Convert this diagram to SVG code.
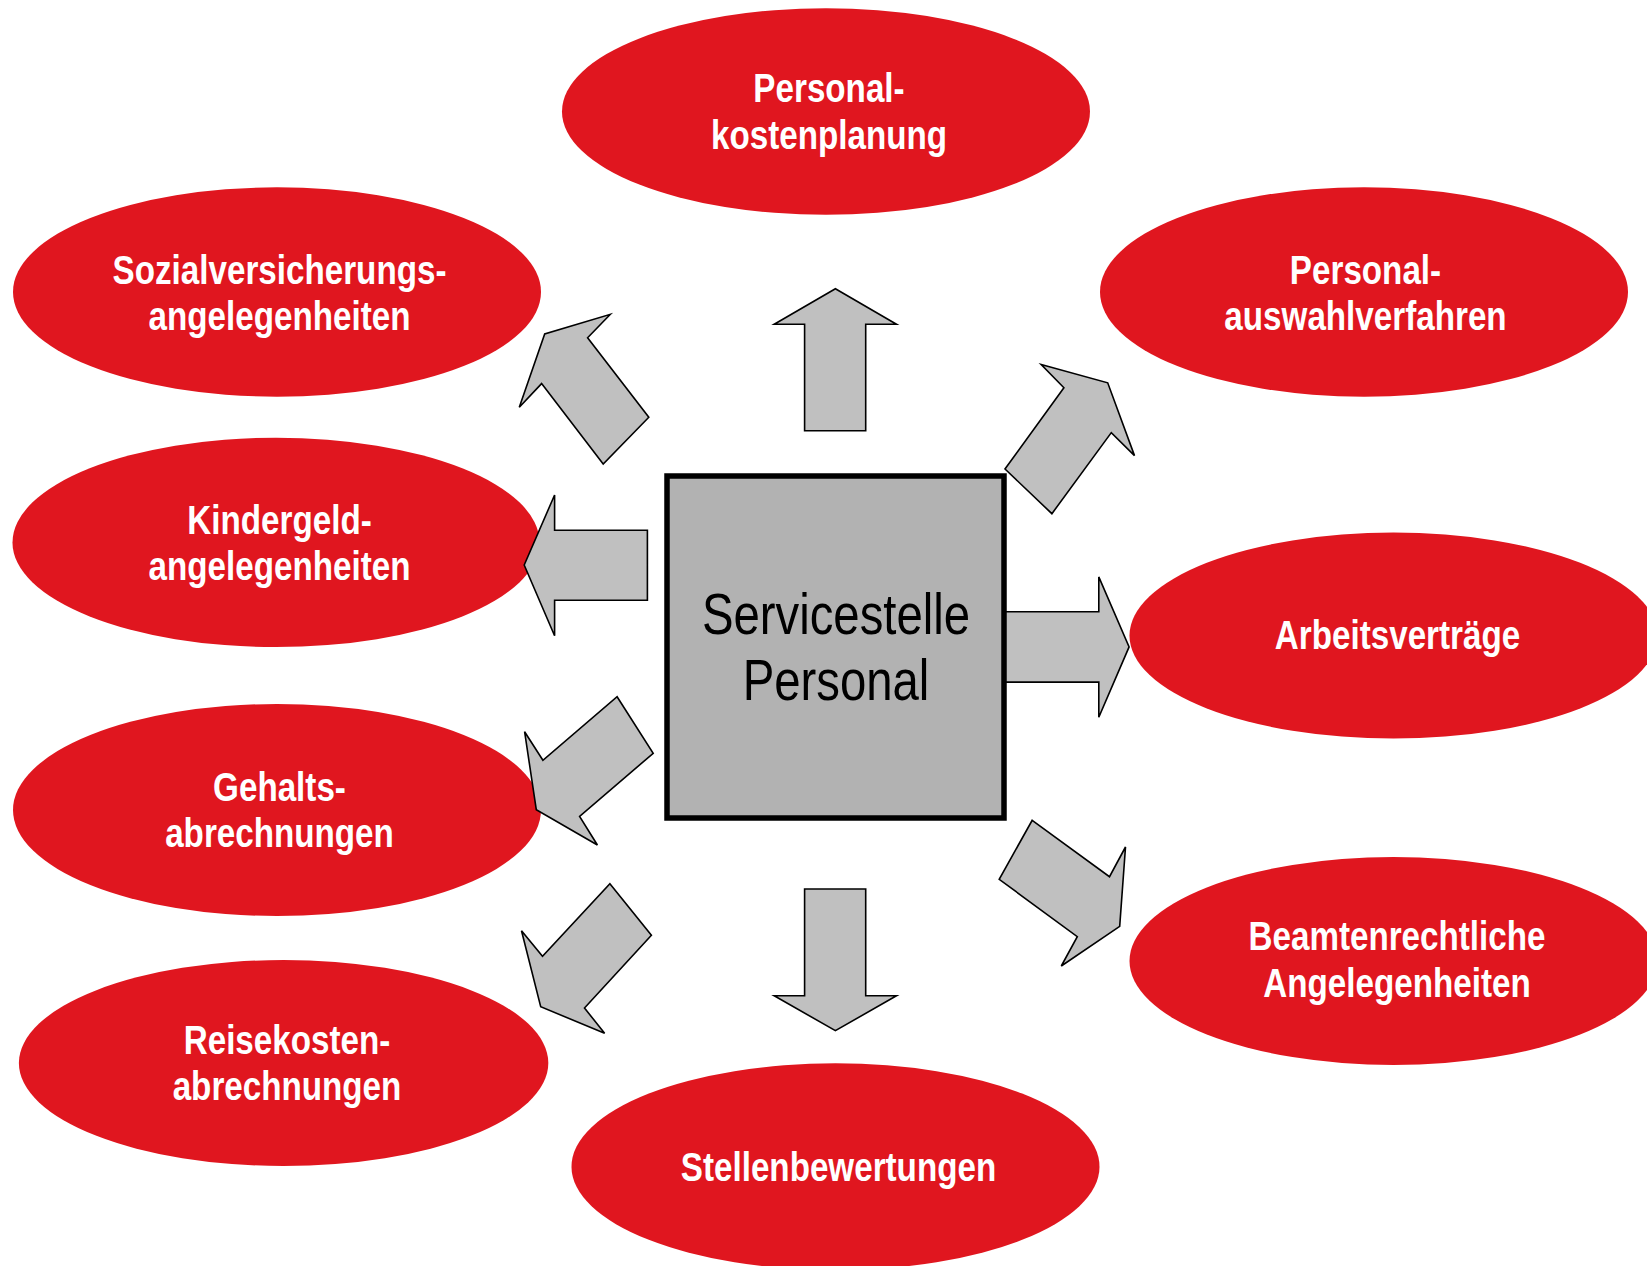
<svg xmlns="http://www.w3.org/2000/svg" width="1647" height="1266" viewBox="0 0 1647 1266">
<style>
.node ellipse { fill: #e0161f; }
.lbl { font-family: "Liberation Sans", Arial, sans-serif; font-weight: bold; font-size: 40px; fill: #ffffff; text-anchor: middle; }
.arrow { fill: #c0c0c0; stroke: #000000; stroke-width: 1.6; stroke-linejoin: miter; }
.center-box { fill: #b2b2b2; stroke: #000000; stroke-width: 5.5; }
.center-lbl { font-family: "Liberation Sans", Arial, sans-serif; font-size: 57px; fill: #000000; text-anchor: middle; }
</style>
<rect width="1647" height="1266" fill="#ffffff"/>

<g id="n-personalkostenplanung" class="node">
<ellipse cx="826" cy="111.5" rx="264" ry="103.3"/>
<text class="lbl" transform="translate(829 102) scale(0.83 1)">Personal-</text>
<text class="lbl" transform="translate(829 148.5) scale(0.83 1)">kostenplanung</text>
</g>
<g id="n-sozialversicherung" class="node">
<ellipse cx="277" cy="292" rx="264" ry="104.7"/>
<text class="lbl" transform="translate(279.5 283.5) scale(0.83 1)">Sozialversicherungs-</text>
<text class="lbl" transform="translate(279.5 329.5) scale(0.83 1)">angelegenheiten</text>
</g>
<g id="n-personalauswahl" class="node">
<ellipse cx="1364" cy="292" rx="264" ry="104.7"/>
<text class="lbl" transform="translate(1365.5 283.5) scale(0.83 1)">Personal-</text>
<text class="lbl" transform="translate(1365.5 329.5) scale(0.83 1)">auswahlverfahren</text>
</g>
<g id="n-kindergeld" class="node">
<ellipse cx="276" cy="542.4" rx="263.5" ry="104.7"/>
<text class="lbl" transform="translate(279.5 533.5) scale(0.83 1)">Kindergeld-</text>
<text class="lbl" transform="translate(279.5 579.5) scale(0.83 1)">angelegenheiten</text>
</g>
<g id="n-arbeitsvertraege" class="node">
<ellipse cx="1393.5" cy="635.6" rx="264" ry="103"/>
<text class="lbl" transform="translate(1397.5 648.5) scale(0.83 1)">Arbeitsverträge</text>
</g>
<g id="n-gehalt" class="node">
<ellipse cx="277" cy="810" rx="264" ry="106"/>
<text class="lbl" transform="translate(279.5 800.5) scale(0.83 1)">Gehalts-</text>
<text class="lbl" transform="translate(279.5 846.5) scale(0.83 1)">abrechnungen</text>
</g>
<g id="n-beamten" class="node">
<ellipse cx="1393.5" cy="961" rx="264" ry="104"/>
<text class="lbl" transform="translate(1397 950) scale(0.83 1)">Beamtenrechtliche</text>
<text class="lbl" transform="translate(1397 996.5) scale(0.83 1)">Angelegenheiten</text>
</g>
<g id="n-reisekosten" class="node">
<ellipse cx="283.6" cy="1063" rx="264.7" ry="103"/>
<text class="lbl" transform="translate(287 1053.5) scale(0.83 1)">Reisekosten-</text>
<text class="lbl" transform="translate(287 1100) scale(0.83 1)">abrechnungen</text>
</g>
<g id="n-stellenbewertungen" class="node">
<ellipse cx="835.5" cy="1166.7" rx="264" ry="103.4"/>
<text class="lbl" transform="translate(838.5 1180.5) scale(0.83 1)">Stellenbewertungen</text>
</g>

<g id="connectors">
<polygon class="arrow" points="835.4,288.7 896.5,324.3 865.7,324.3 865.7,430.7 804.6,430.7 804.6,324.3 774.2,324.3"/>
<polygon class="arrow" points="610.4,314.3 587.6,337.7 648.8,417.3 603.2,464 541.6,383.6 519.3,407.3 544.7,333.9"/>
<polygon class="arrow" points="1041.2,364.5 1107.7,382.8 1134.5,455.6 1111.3,432.6 1051.9,513.7 1005,469 1063.9,387.8"/>
<polygon class="arrow" points="524.2,565 554.6,495 554.6,530.2 647.4,530.2 647.4,600.2 554.6,600.2 554.6,635.8"/>
<polygon class="arrow" points="1000,611.7 1098.8,611.7 1098.8,576.9 1129.1,646.9 1098.8,717.3 1098.8,682.1 1000,682.1"/>
<polygon class="arrow" points="617.1,696.7 653.2,753.3 579.6,816.3 597.4,845 536.3,809.7 524.6,731.7 542.9,760.3"/>
<polygon class="arrow" points="609.9,883.7 651.4,935.3 584.5,1008 604.6,1033.3 540.7,1006.7 521.5,930.7 542.5,956.3"/>
<polygon class="arrow" points="804.6,889 865.7,889 865.7,995.7 896.5,995.7 835.4,1030.7 774.2,995.7 804.6,995.7"/>
<polygon class="arrow" points="1032.2,820.3 1109.5,876.7 1125.5,847 1119.7,926.3 1061.3,966 1077.3,936.7 999.2,879.3"/>
</g>

<g id="n-servicestelle">
<rect class="center-box" x="667" y="476" width="337" height="342"/>
<text class="center-lbl" transform="translate(836 634) scale(0.83 1)">Servicestelle</text>
<text class="center-lbl" transform="translate(836 700) scale(0.83 1)">Personal</text>
</g>
</svg>
